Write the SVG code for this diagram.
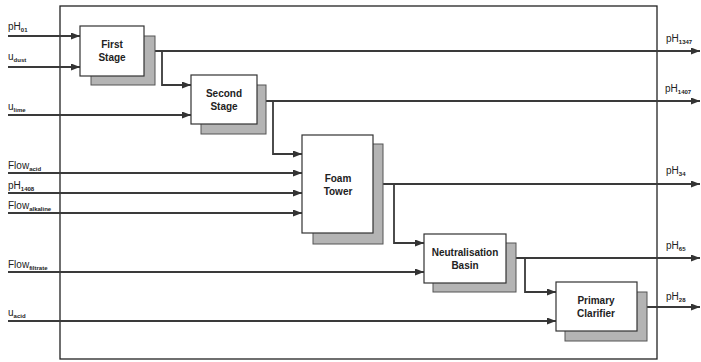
<svg xmlns="http://www.w3.org/2000/svg" width="701" height="362" viewBox="0 0 701 362">
<defs>
<marker id="ah" markerWidth="9" markerHeight="7" refX="9" refY="3.5" orient="auto" markerUnits="userSpaceOnUse">
<path d="M0,0 L9,3.5 L0,7 Z" fill="#333"/>
</marker>
<style>
.frame{fill:none;stroke:#222;stroke-width:1.3}
.box{fill:#fff;stroke:#333;stroke-width:1.2}
.sh{fill:#b4b4b4;stroke:#555;stroke-width:1}
.c{fill:none;stroke:#3a3a3a;stroke-width:1.8}
.a{marker-end:url(#ah)}
.t{font-family:"Liberation Sans",Arial,sans-serif;font-size:10px;font-weight:bold;fill:#222;text-anchor:middle}
.l{font-family:"Liberation Sans",Arial,sans-serif;font-size:10px;fill:#222}
.s{font-size:6px;font-weight:bold}
</style>
</defs>
<rect width="701" height="362" fill="#fff"/>
<rect class="frame" x="60" y="6" width="597" height="353"/>
<g id="connectors">
<line class="c a" x1="8" y1="36" x2="80" y2="36"/>
<line class="c a" x1="8" y1="67" x2="80" y2="67"/>
<line class="c a" x1="8" y1="115" x2="191" y2="115"/>
<line class="c a" x1="155" y1="51" x2="700" y2="51"/>
<polyline class="c a" points="162,51 162,85 191,85"/>
<line class="c a" x1="266" y1="101" x2="700" y2="101"/>
<polyline class="c a" points="273,101 273,154 302,154"/>
<line class="c a" x1="8" y1="173" x2="302" y2="173"/>
<line class="c a" x1="8" y1="193" x2="302" y2="193"/>
<line class="c a" x1="8" y1="213" x2="302" y2="213"/>
<line class="c a" x1="383" y1="184" x2="700" y2="184"/>
<polyline class="c a" points="394,184 394,243 424,243"/>
<line class="c a" x1="8" y1="272" x2="424" y2="272"/>
<line class="c a" x1="516" y1="258" x2="700" y2="258"/>
<polyline class="c a" points="525,258 525,292 556,292"/>
<line class="c a" x1="8" y1="321" x2="556" y2="321"/>
<line class="c a" x1="647" y1="307" x2="700" y2="307"/>
</g>
<g id="first-stage">
<rect class="sh" x="91" y="36" width="64" height="49"/>
<rect class="box" x="80" y="26" width="64" height="50"/>
<text class="t" x="112" y="48">First</text>
<text class="t" x="112" y="61">Stage</text>
</g>
<g id="second-stage">
<rect class="sh" x="201" y="85" width="65" height="49"/>
<rect class="box" x="191" y="75" width="66" height="49"/>
<text class="t" x="224" y="97">Second</text>
<text class="t" x="224" y="110">Stage</text>
</g>
<g id="foam-tower">
<rect class="sh" x="313" y="144" width="70" height="100"/>
<rect class="box" x="302" y="135" width="71" height="98"/>
<text class="t" x="338" y="182">Foam</text>
<text class="t" x="338" y="195">Tower</text>
</g>
<g id="neutralisation-basin">
<rect class="sh" x="433" y="243" width="83" height="49"/>
<rect class="box" x="424" y="234" width="82" height="49"/>
<text class="t" x="465" y="256">Neutralisation</text>
<text class="t" x="465" y="269">Basin</text>
</g>
<g id="primary-clarifier">
<rect class="sh" x="565" y="292" width="82" height="49"/>
<rect class="box" x="556" y="282" width="81" height="49"/>
<text class="t" x="596" y="304">Primary</text>
<text class="t" x="596" y="317">Clarifier</text>
</g>
<g id="labels">
<text class="l" x="8" y="30">pH<tspan class="s" dy="2">01</tspan></text>
<text class="l" x="8" y="60">u<tspan class="s" dy="2">dust</tspan></text>
<text class="l" x="8" y="110">u<tspan class="s" dy="2">lime</tspan></text>
<text class="l" x="8" y="169">Flow<tspan class="s" dy="2">acid</tspan></text>
<text class="l" x="8" y="189">pH<tspan class="s" dy="2">1408</tspan></text>
<text class="l" x="8" y="209">Flow<tspan class="s" dy="2">alkaline</tspan></text>
<text class="l" x="8" y="268">Flow<tspan class="s" dy="2">filtrate</tspan></text>
<text class="l" x="8" y="316">u<tspan class="s" dy="2">acid</tspan></text>
<text class="l" x="666" y="42">pH<tspan class="s" dy="2">1347</tspan></text>
<text class="l" x="665" y="92">pH<tspan class="s" dy="2">1407</tspan></text>
<text class="l" x="666" y="174">pH<tspan class="s" dy="2">34</tspan></text>
<text class="l" x="666" y="249">pH<tspan class="s" dy="2">65</tspan></text>
<text class="l" x="666" y="300">pH<tspan class="s" dy="2">28</tspan></text>
</g>
</svg>
